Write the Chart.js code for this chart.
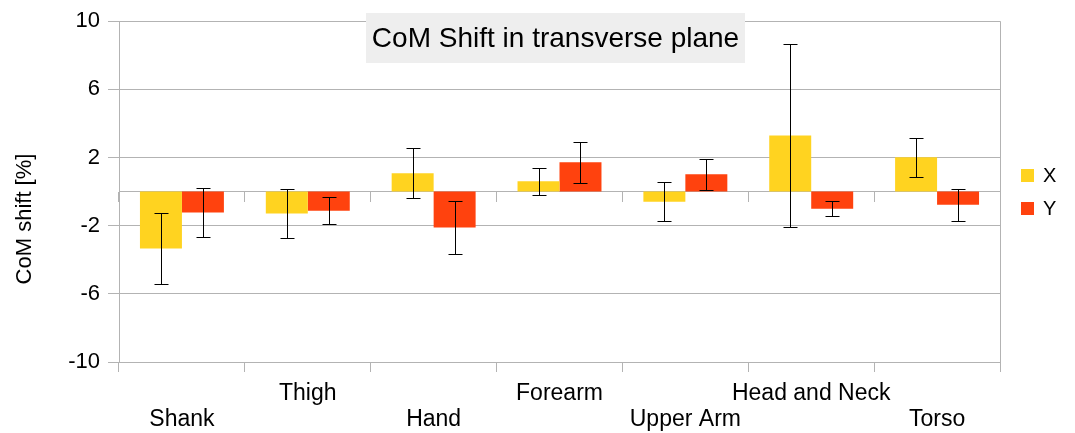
<!DOCTYPE html>
<html>
<head>
<meta charset="utf-8">
<script src="https://cdn.jsdelivr.net/npm/chart.js@4.4.1/dist/chart.umd.min.js"></script>
<style>
  html, body { margin: 0; padding: 0; background: #fff; }
  canvas { display: block; }
</style>
</head>
<body>
<canvas id="chart" width="1075" height="433"></canvas>
<script>
// Data
const categories = ['Shank', 'Thigh', 'Hand', 'Forearm', 'Upper Arm', 'Head and Neck', 'Torso'];
const xValues = [-3.34, -1.29, 1.08, 0.61, -0.59, 3.29, 2.01];
const xErrors = [2.11, 1.42, 1.46, 0.80, 1.13, 5.36, 1.15];
const yValues = [-1.23, -1.12, -2.11, 1.72, 1.02, -1.00, -0.77];
const yErrors = [1.45, 0.80, 1.55, 1.20, 0.92, 0.42, 0.93];
const yTickValues = [-10, -6, -2, 2, 6, 10];

const TITLE = 'CoM Shift in transverse plane';
const Y_TITLE = 'CoM shift [%]';
const FONT = '"Liberation Sans", Arial, sans-serif';
const GRID = '#b3b3b3';

// Symmetric error bars, drawn through the y scale
const errorBars = {
    id: 'errorBars',
    afterDatasetsDraw(chart) {
        const ctx = chart.ctx;
        const yScale = chart.scales.y;
        ctx.save();
        ctx.strokeStyle = '#000';
        ctx.lineWidth = 1;
        chart.data.datasets.forEach((ds, di) => {
            const meta = chart.getDatasetMeta(di);
            meta.data.forEach((bar, i) => {
                const v = ds.data[i];
                const e = ds.errors[i];
                const x = Math.round(bar.x) + 0.5;
                const top = Math.round(yScale.getPixelForValue(v + e)) + 0.5;
                const bot = Math.round(yScale.getPixelForValue(v - e)) + 0.5;
                ctx.beginPath();
                ctx.moveTo(x, top); ctx.lineTo(x, bot);
                ctx.moveTo(x - 7, top); ctx.lineTo(x + 7, top);
                ctx.moveTo(x - 7, bot); ctx.lineTo(x + 7, bot);
                ctx.stroke();
            });
        });
        ctx.restore();
    }
};

// Title box, y axis title, right wall and legend
const decorations = {
    id: 'decorations',
    afterDraw(chart) {
        const ctx = chart.ctx;
        const area = chart.chartArea;
        ctx.save();

        // right wall of the plot
        ctx.strokeStyle = GRID;
        ctx.lineWidth = 1;
        const rx = Math.round(area.right) + 0.5;
        ctx.beginPath();
        ctx.moveTo(rx, area.top);
        ctx.lineTo(rx, area.bottom);
        ctx.stroke();

        // title with grey background
        ctx.font = '28px ' + FONT;
        const tw = ctx.measureText(TITLE).width;
        const cx = (area.left + area.right) / 2 - 4;
        ctx.fillStyle = '#eeeeee';
        ctx.fillRect(Math.round(cx - tw / 2 - 6), 13, Math.round(tw + 12), 50);
        ctx.fillStyle = '#000';
        ctx.textAlign = 'center';
        ctx.textBaseline = 'middle';
        ctx.fillText(TITLE, cx, 39);

        // y axis title
        ctx.save();
        ctx.translate(25, 219);
        ctx.rotate(-Math.PI / 2);
        ctx.font = '22px ' + FONT;
        ctx.fillText(Y_TITLE, 0, 0);
        ctx.restore();

        // legend
        const midY = (area.top + area.bottom) / 2;
        const lx = Math.round(area.right) + 21;
        ctx.font = '20px ' + FONT;
        ctx.textAlign = 'left';
        chart.data.datasets.forEach((ds, i) => {
            const y = midY - 16.5 + i * 33;
            ctx.fillStyle = ds.backgroundColor;
            ctx.fillRect(lx, Math.round(y - 6.5), 13, 13);
            ctx.fillStyle = '#000';
            ctx.fillText(ds.label, lx + 22, y + 1);
        });

        ctx.restore();
    }
};

const ctx = document.getElementById('chart').getContext('2d');
new Chart(ctx, {
    type: 'bar',
    data: {
        labels: categories,
        datasets: [
            {
                label: 'X',
                data: xValues,
                errors: xErrors,
                backgroundColor: '#ffd320',
                categoryPercentage: 0.667,
                barPercentage: 1.0
            },
            {
                label: 'Y',
                data: yValues,
                errors: yErrors,
                backgroundColor: '#ff420e',
                categoryPercentage: 0.667,
                barPercentage: 1.0
            }
        ]
    },
    options: {
        responsive: false,
        animation: false,
        layout: {
            padding: { left: 0, right: 75, top: 21, bottom: 0 }
        },
        plugins: {
            legend: { display: false },
            title: { display: false },
            tooltip: { enabled: false }
        },
        scales: {
            x: {
                type: 'category',
                position: 'bottom',
                offset: true,
                grid: {
                    offset: true,
                    drawOnChartArea: false,
                    drawTicks: true,
                    tickLength: 10,
                    color: GRID
                },
                border: { display: false },
                ticks: {
                    autoSkip: false,
                    maxRotation: 0,
                    padding: 9,
                    color: '#000',
                    font: { family: FONT, size: 23, lineHeight: '26px' },
                    callback: (value, index) =>
                        index % 2 === 0 ? ['', categories[index]] : [categories[index], '']
                },
                afterFit: (scale) => { scale.height = 71; }
            },
            x0: {
                type: 'category',
                position: { y: 0 },
                labels: categories,
                offset: true,
                grid: {
                    offset: true,
                    drawOnChartArea: false,
                    drawTicks: true,
                    tickLength: 10,
                    color: GRID
                },
                border: { display: true, color: GRID },
                ticks: { display: false }
            },
            y: {
                min: -10,
                max: 10,
                afterBuildTicks: (scale) => {
                    scale.ticks = yTickValues.map(v => ({ value: v }));
                },
                grid: {
                    color: GRID,
                    drawTicks: true,
                    tickLength: 11
                },
                border: { display: true, color: GRID },
                ticks: {
                    padding: 8,
                    color: '#000',
                    font: { family: FONT, size: 22 }
                },
                afterFit: (scale) => { scale.width = 119; }
            }
        }
    },
    plugins: [errorBars, decorations]
});
</script>
</body>
</html>
